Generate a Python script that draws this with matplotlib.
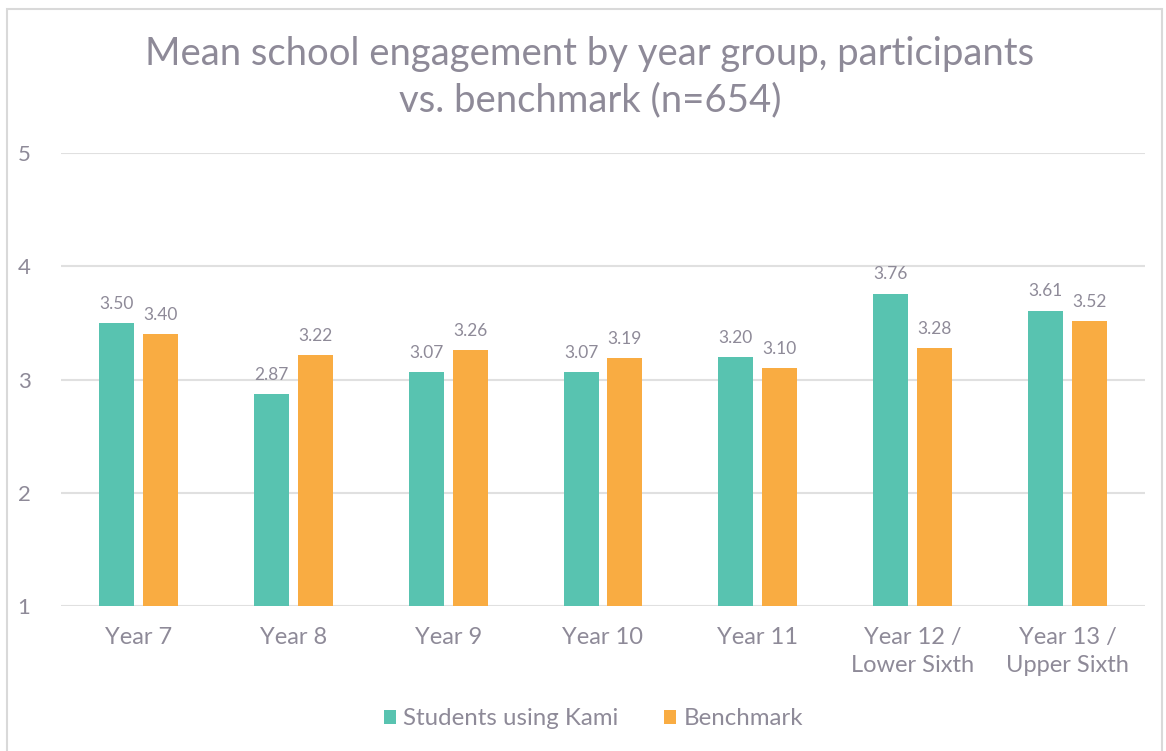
import matplotlib.pyplot as plt
from matplotlib.patches import Rectangle
import numpy as np

# values
years = ['Year 7', 'Year 8', 'Year 9', 'Year 10', 'Year 11',
         'Year 12 /\nLower Sixth', 'Year 13 /\nUpper Sixth']
kami = [3.50, 2.87, 3.07, 3.07, 3.20, 3.76, 3.61]
benchmark = [3.40, 3.22, 3.26, 3.19, 3.10, 3.28, 3.52]

teal = '#58C3B0'
orange = '#F9AC42'
grey_txt = '#8E8A98'

plt.rcParams['font.family'] = ['Lato', 'DejaVu Sans']

fig = plt.figure(figsize=(11.66, 7.51), dpi=100)
ax = fig.add_axes([0.0523, 0.193, 0.9297, 0.603])

x = np.arange(len(years))
w = 0.226
off = 0.142
b1 = ax.bar(x - off, np.array(kami) - 1, w, bottom=1, color=teal, label='Students using Kami', zorder=3)
b2 = ax.bar(x + off, np.array(benchmark) - 1, w, bottom=1, color=orange, label='Benchmark', zorder=3)

for bars, vals in [(b1, kami), (b2, benchmark)]:
    for r, v in zip(bars, vals):
        ax.annotate('%.2f' % v, (r.get_x() + r.get_width() / 2, v), xytext=(0, 8),
                    textcoords='offset points', ha='center', va='bottom',
                    fontsize=12.5, color=grey_txt)

ax.set_xlim(-0.5, 6.5)
ax.set_ylim(1, 5)
ax.set_yticks([1, 2, 3, 4, 5])
ax.set_xticks(x)
ax.set_xticklabels(years, linespacing=1.4)
ax.tick_params(axis='y', length=0, labelsize=16, labelcolor=grey_txt, pad=22)
ax.tick_params(axis='x', length=0, labelsize=17, labelcolor=grey_txt, pad=15)
ax.grid(axis='y', color='#E0E0E0', linewidth=1.5, zorder=0)
for s in ax.spines.values():
    s.set_visible(False)

fig.text(0.506, 0.897, 'Mean school engagement by year group, participants\nvs. benchmark (n=654)',
         ha='center', va='center', fontsize=27.5, color=grey_txt, linespacing=1.35)

leg = fig.legend(loc='center', bbox_to_anchor=(0.509, 0.043), ncol=2, frameon=False,
                 fontsize=17.3, handlelength=0.5, handleheight=0.5, handletextpad=0.3,
                 columnspacing=1.9)
for t in leg.get_texts():
    t.set_color(grey_txt)

fig.patches.append(Rectangle((7 / 1166, -0.01), 1155 / 1166, 1 - 9 / 751 + 0.01,
                             transform=fig.transFigure, fill=False,
                             edgecolor='#D9D9D9', linewidth=1.5))

fig.savefig('out.png', dpi=100, facecolor='white')
